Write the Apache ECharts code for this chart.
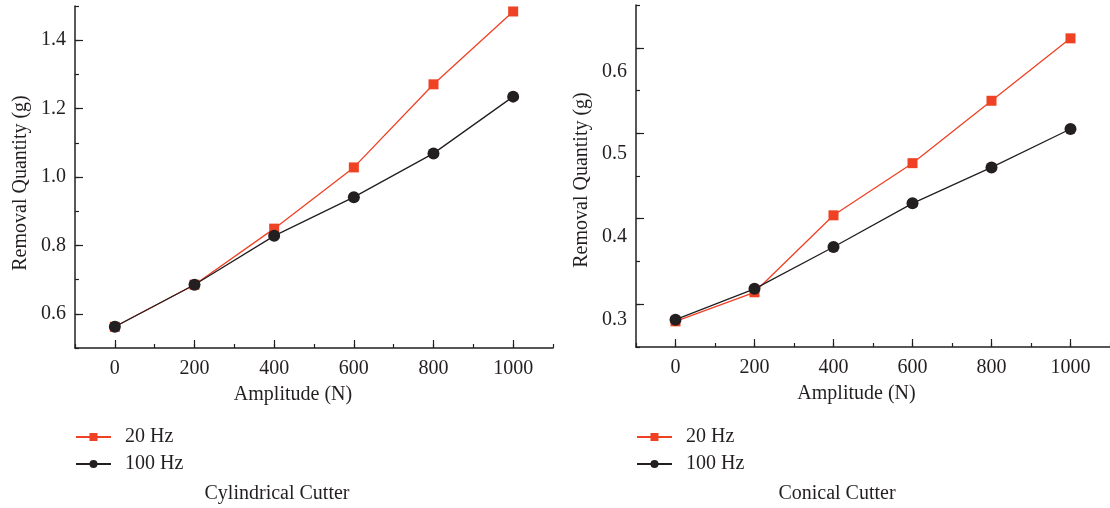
<!DOCTYPE html>
<html>
<head>
<meta charset="utf-8">
<script src="https://cdn.jsdelivr.net/npm/echarts@6/dist/echarts.min.js"></script>
<style>
html,body{margin:0;padding:0;background:#fff;}
#chart{width:1110px;height:508px;}
</style>
</head>
<body>
<div id="chart"></div>
<script>
// ---- data ----
var amplitude = [0, 200, 400, 600, 800, 1000];
var seriesNames = ['20 Hz', '100 Hz'];
var cylindrical20 = [0.562, 0.685, 0.849, 1.028, 1.271, 1.484];
var cylindrical100 = [0.562, 0.685, 0.828, 0.941, 1.069, 1.235];
var conical20 = [0.280, 0.314, 0.404, 0.465, 0.538, 0.611];
var conical100 = [0.282, 0.318, 0.367, 0.418, 0.460, 0.505];
var xTickLabels = [0, 200, 400, 600, 800, 1000];
var cylYTickLabels = [0.6, 0.8, 1.0, 1.2, 1.4];
var conYTickLabels = [0.3, 0.4, 0.5, 0.6];
var panelCaptions = ['Cylindrical Cutter', 'Conical Cutter'];
var xTitle = 'Amplitude (N)';
var yTitle = 'Removal Quantity (g)';

// ---- style ----
var FONT = '"Liberation Serif", "Times New Roman", serif';
var INK = '#231f20';
var RED = '#ef4123';
var FS = 20;

function pairs(xs, ys) { return xs.map(function (x, i) { return [x, ys[i]]; }); }

var chart = echarts.init(document.getElementById('chart'), null, {renderer: 'canvas'});

var grids = [
  {left: 75, width: 478, top: 6, bottom: 160},
  {left: 636, width: 477, top: 5, bottom: 161}
];

function majorX(gi, nameShift) {
  return {
    type: 'value', gridIndex: gi, min: -100, max: 1100, interval: 100,
    position: 'bottom',
    name: xTitle, nameLocation: 'middle', nameGap: 37,
    nameTextStyle: {fontFamily: FONT, fontSize: FS, color: INK, padding: [0, nameShift, 0, 0]},
    axisLine: {show: true, onZero: false, lineStyle: {color: INK, width: 1.5}},
    axisTick: {show: true, inside: true, length: 8, lineStyle: {color: INK, width: 1.2}, customValues: xTickLabels},
    axisLabel: {show: true, margin: 11, fontFamily: FONT, fontSize: FS, color: INK, customValues: xTickLabels,
      formatter: function (v) { return String(v); }},
    splitLine: {show: false}
  };
}
function minorX(gi) {
  return {
    type: 'value', gridIndex: gi, min: -100, max: 1100, interval: 100,
    position: 'bottom', offset: 0,
    axisLine: {show: false, onZero: false},
    axisTick: {show: true, inside: true, length: 4, lineStyle: {color: INK, width: 1.2}},
    axisLabel: {show: false},
    splitLine: {show: false}
  };
}

var option = {
  animation: false,
  backgroundColor: '#ffffff',
  grid: grids,
  xAxis: [majorX(0, 42), minorX(0), majorX(1, 33), minorX(1)],
  yAxis: [
    {
      type: 'value', gridIndex: 0, min: 0.5, max: 1.5, interval: 0.1, position: 'left',
      name: yTitle, nameLocation: 'middle', nameGap: 44,
      nameTextStyle: {fontFamily: FONT, fontSize: FS, color: INK, padding: [0, 12, 0, 0]},
      axisLine: {show: true, onZero: false, lineStyle: {color: INK, width: 1.5}},
      axisTick: {show: true, inside: true, length: 8, lineStyle: {color: INK, width: 1.2}, customValues: cylYTickLabels},
      axisLabel: {show: true, margin: 9, fontFamily: FONT, fontSize: FS, color: INK, customValues: cylYTickLabels,
        formatter: function (v) { return v.toFixed(1); }},
      splitLine: {show: false}
    },
    {
      type: 'value', gridIndex: 0, min: 0.5, max: 1.5, interval: 0.1, position: 'left', offset: 0,
      axisLine: {show: false, onZero: false},
      axisTick: {show: true, inside: true, length: 4, lineStyle: {color: INK, width: 1.2}},
      axisLabel: {show: false}, splitLine: {show: false}
    },
    {
      type: 'value', gridIndex: 1, min: 0.25, max: 0.65, interval: 0.05, position: 'left',
      name: yTitle, nameLocation: 'middle', nameGap: 44,
      nameTextStyle: {fontFamily: FONT, fontSize: FS, color: INK, padding: [0, 8, 0, 0]},
      axisLine: {show: true, onZero: false, lineStyle: {color: INK, width: 1.5}},
      axisTick: {show: true, inside: true, length: 8, lineStyle: {color: INK, width: 1.2}, customValues: conYTickLabels},
      axisLabel: {show: true, margin: 9, fontFamily: FONT, fontSize: FS, color: INK, customValues: conYTickLabels,
        formatter: function (v) {
          var k = Math.round(v * 10);
          return '{s' + k + '|' + v.toFixed(1) + '}';
        },
        rich: {
          s3: {fontFamily: FONT, fontSize: FS, color: INK, padding: [31, 0, 0, 0]},
          s4: {fontFamily: FONT, fontSize: FS, color: INK, padding: [35, 0, 0, 0]},
          s5: {fontFamily: FONT, fontSize: FS, color: INK, padding: [41, 0, 0, 0]},
          s6: {fontFamily: FONT, fontSize: FS, color: INK, padding: [47, 0, 0, 0]}
        }
      },
      splitLine: {show: false}
    },
    {
      type: 'value', gridIndex: 1, min: 0.25, max: 0.65, interval: 0.05, position: 'left', offset: 0,
      axisLine: {show: false, onZero: false},
      axisTick: {show: true, inside: true, length: 4, lineStyle: {color: INK, width: 1.2}},
      axisLabel: {show: false}, splitLine: {show: false}
    }
  ],
  legend: [0, 1].map(function (i) {
    return {
      orient: 'vertical', left: grids[i].left, top: 427, padding: 0,
      itemWidth: 35, itemHeight: 10, itemGap: 7,
      data: seriesNames,
      textStyle: {fontFamily: FONT, fontSize: FS, color: INK, padding: [0, 0, 0, 9]},
      selectedMode: false
    };
  }),
  graphic: [
    {type: 'text', x: 277, y: 494, style: {text: panelCaptions[0], font: FS + 'px ' + FONT, fill: INK, align: 'center', verticalAlign: 'middle'}},
    {type: 'text', x: 837, y: 494, style: {text: panelCaptions[1], font: FS + 'px ' + FONT, fill: INK, align: 'center', verticalAlign: 'middle'}}
  ],
  series: [
    {name: seriesNames[0], type: 'line', xAxisIndex: 0, yAxisIndex: 0, data: pairs(amplitude, cylindrical20),
      symbol: 'rect', symbolSize: 10, itemStyle: {color: RED}, lineStyle: {color: RED, width: 1.3}, z: 3},
    {name: seriesNames[1], type: 'line', xAxisIndex: 0, yAxisIndex: 0, data: pairs(amplitude, cylindrical100),
      symbol: 'circle', symbolSize: 12, itemStyle: {color: INK}, lineStyle: {color: INK, width: 1.3}, z: 4},
    {name: seriesNames[0], type: 'line', xAxisIndex: 2, yAxisIndex: 2, data: pairs(amplitude, conical20),
      symbol: 'rect', symbolSize: 10, itemStyle: {color: RED}, lineStyle: {color: RED, width: 1.3}, z: 3},
    {name: seriesNames[1], type: 'line', xAxisIndex: 2, yAxisIndex: 2, data: pairs(amplitude, conical100),
      symbol: 'circle', symbolSize: 12, itemStyle: {color: INK}, lineStyle: {color: INK, width: 1.3}, z: 4}
  ]
};
chart.setOption(option);
</script>
</body>
</html>
